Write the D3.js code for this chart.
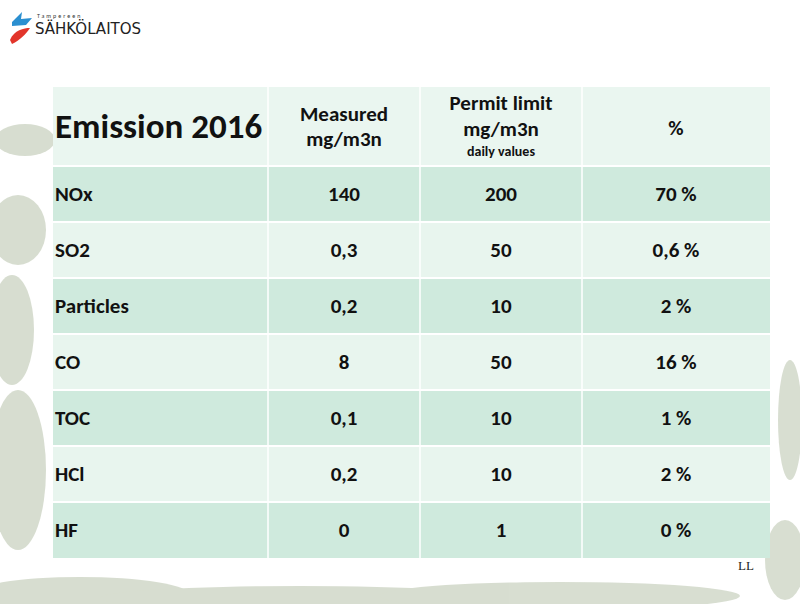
<!DOCTYPE html>
<html><head><meta charset="utf-8">
<script src="https://cdn.jsdelivr.net/npm/d3@7"></script>
<style>body{margin:0;background:#fff}svg{display:block;font-family:Calibri,Lato,"Open Sans",sans-serif}</style>
</head><body><svg id="c" width="800" height="604"></svg>
<script>
// Table data
const title = "Emission 2016";
const pollutants = ["NOx", "SO2", "Particles", "CO", "TOC", "HCl", "HF"];
const measured = ["140", "0,3", "0,2", "8", "0,1", "0,2", "0"];
const permitLimit = ["200", "50", "10", "50", "10", "10", "1"];
const percent = ["70 %", "0,6 %", "2 %", "16 %", "1 %", "2 %", "0 %"];

const svg = d3.select("#c");

// Soft grass-like backdrop on left and bottom
const bg = svg.append("g").attr("opacity", 0.35);
const blobs = [[25,140,30,16],[100,160,35,12],[18,230,28,35],[12,330,22,55],[18,470,28,80],[80,595,110,18],[300,598,200,12],[560,596,180,14],[785,560,20,40],[790,420,12,60]];
blobs.forEach(b => bg.append("ellipse").attr("cx", b[0]).attr("cy", b[1]).attr("rx", b[2]).attr("ry", b[3]).attr("fill", "#8fa07a"));

// Logo
const logo = svg.append("g");
logo.append("path").attr("d", "M12,22 L22,12 L21,19 L32,18 L26,25 L12,26 Z").attr("fill", "#2b8fd0");
logo.append("path").attr("d", "M10,40 C14,30 24,28 30,28 C26,34 20,40 12,44 Z").attr("fill", "#e2352b");
logo.append("text").attr("x", 37).attr("y", 18).attr("font-size", 6).attr("letter-spacing", 2).attr("fill", "#333").text("Tampereen");
logo.append("text").attr("x", 35).attr("y", 34).attr("font-size", 15).attr("font-family", "DejaVu Sans").attr("fill", "#222").text("SÄHKÖLAITOS");

// Layout
const colEdges = [53, 268, 420, 582, 770];
const headerTop = 87, headerBottom = 166, tableBottom = 558;
const y = d3.scaleBand().domain(pollutants).range([headerBottom, tableBottom]);

const t = svg.append("g");
// header
t.append("rect").attr("x", colEdges[0]).attr("y", headerTop).attr("width", colEdges[4] - colEdges[0]).attr("height", headerBottom - headerTop).attr("fill", "#eaf6f0");
// rows
t.selectAll("rect.row").data(pollutants).join("rect").attr("class", "row")
  .attr("x", colEdges[0]).attr("y", d => y(d)).attr("width", colEdges[4] - colEdges[0]).attr("height", y.bandwidth())
  .attr("fill", (d, i) => i % 2 === 0 ? "#cfeadd" : "#e8f5ee");
// grid lines
[headerBottom].concat(pollutants.slice(1).map(d => y(d))).forEach(v =>
  t.append("line").attr("x1", colEdges[0]).attr("x2", colEdges[4]).attr("y1", v).attr("y2", v).attr("stroke", "#fff").attr("stroke-width", 2));
colEdges.slice(1, 4).forEach(v =>
  t.append("line").attr("x1", v).attr("x2", v).attr("y1", headerTop).attr("y2", tableBottom).attr("stroke", "#fff").attr("stroke-width", 1.5));

const cx = i => (colEdges[i] + colEdges[i + 1]) / 2;
const txt = (x, yy, s, size, anchor) => t.append("text").attr("x", x).attr("y", yy).attr("font-size", size)
  .attr("font-weight", "bold").attr("text-anchor", anchor || "middle").attr("fill", "#111").text(s);

// header text
txt(55, 138, title, 35, "start");
txt(cx(1), 121, "Measured", 21);
txt(cx(1), 146, "mg/m3n", 21);
txt(cx(2), 110, "Permit limit", 21);
txt(cx(2), 136, "mg/m3n", 21);
txt(cx(2), 156, "daily values", 14);
txt(cx(3), 135, "%", 21);

// body text
pollutants.forEach((p, i) => {
  const yy = y(p) + y.bandwidth() / 2 + 7;
  txt(55, yy, p, 21, "start");
  txt(cx(1), yy, measured[i], 21);
  txt(cx(2), yy, permitLimit[i], 21);
  txt(cx(3), yy, percent[i], 21);
});

svg.append("text").attr("x", 738).attr("y", 570).attr("font-size", 13).attr("font-family", "Liberation Serif").attr("fill", "#222").text("LL");
</script></body></html>
